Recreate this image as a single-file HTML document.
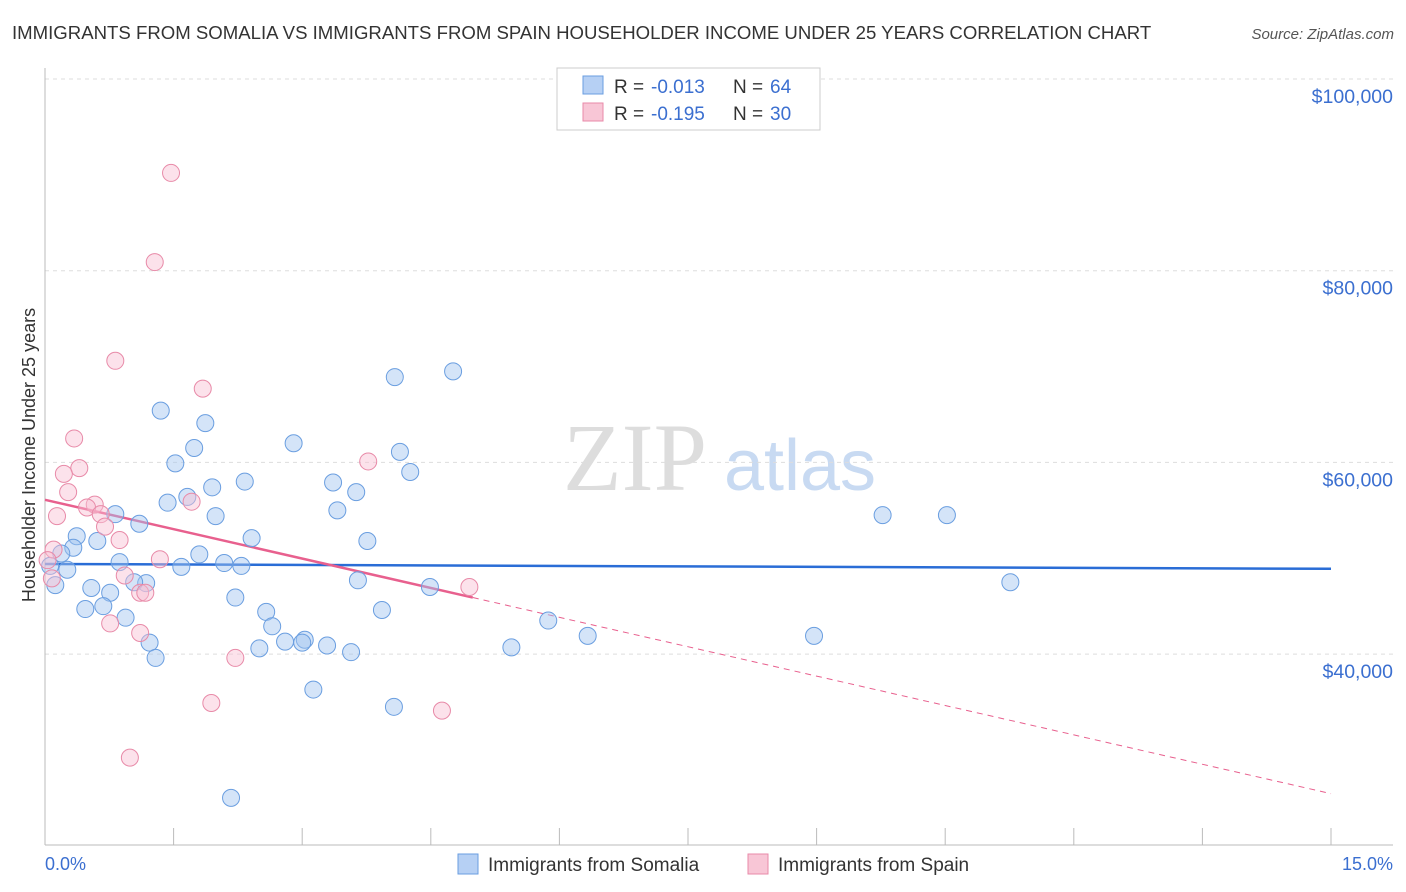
<!DOCTYPE html>
<html><head><meta charset="utf-8"><style>
body{margin:0;background:#fff;font-family:"Liberation Sans",sans-serif}
svg{display:block}
</style></head><body>
<svg width="1406" height="892" xmlns="http://www.w3.org/2000/svg">
<text x="12" y="39" font-size="18.6" fill="#333">IMMIGRANTS FROM SOMALIA VS IMMIGRANTS FROM SPAIN HOUSEHOLDER INCOME UNDER 25 YEARS CORRELATION CHART</text>
<text x="1394" y="39" font-size="15" fill="#555" font-style="italic" text-anchor="end">Source: ZipAtlas.com</text>
<g>
<text x="635" y="490" font-size="96" fill="#ddd" font-family="Liberation Serif,serif" text-anchor="middle">ZIP</text>
<text x="800" y="490" font-size="72" fill="#c8daf2" text-anchor="middle">atlas</text>
</g>
<g id="grid"></g>
<g id="axes"></g>
<g id="trends"></g>
<g id="dots"></g>
<text x="35" y="455" font-size="18" fill="#333" text-anchor="middle" transform="rotate(-90 35 455)">Householder Income Under 25 years</text>
<text x="45" y="870" font-size="18" fill="#3b6fd0">0.0%</text>
<text x="1393" y="870" font-size="18" fill="#3b6fd0" text-anchor="end">15.0%</text>
<g>
<rect x="557" y="68" width="263" height="62" fill="#fff" stroke="#ccc"/>
<rect x="583" y="76" width="20" height="18" fill="#b6d0f4" stroke="#6a9ee0"/>
<rect x="583" y="103" width="20" height="18" fill="#f8c6d6" stroke="#e88aa8"/>
<text x="614" y="93" font-size="19" fill="#333">R =</text>
<text x="651" y="93" font-size="19" fill="#3b6fd0">-0.013</text>
<text x="733" y="93" font-size="19" fill="#333">N =</text>
<text x="770" y="93" font-size="19" fill="#3b6fd0">64</text>
<text x="614" y="120" font-size="19" fill="#333">R =</text>
<text x="651" y="120" font-size="19" fill="#3b6fd0">-0.195</text>
<text x="733" y="120" font-size="19" fill="#333">N =</text>
<text x="770" y="120" font-size="19" fill="#3b6fd0">30</text>
</g>
<g>
<rect x="458" y="854" width="20" height="20" fill="#b6d0f4" stroke="#6a9ee0"/>
<text x="488" y="871" font-size="19" fill="#333">Immigrants from Somalia</text>
<rect x="748" y="854" width="20" height="20" fill="#f8c6d6" stroke="#e88aa8"/>
<text x="778" y="871" font-size="19" fill="#333">Immigrants from Spain</text>
</g>
</svg>
<script>
const yTicks=[40000,60000,80000,100000];
const yTickLabels=["$40,000","$60,000","$80,000","$100,000"];
const xTicks=[0,1.5,3,4.5,6,7.5,9,10.5,12,13.5,15];
const somaliaX=[1.35,1.87,1.74,1.52,2.90,4.08,4.76,4.14,4.26,3.36,3.63,2.33,1.95,1.66,1.43,3.41,1.99,0.82,1.10,0.37,0.61,2.41,3.76,0.33,0.19,1.80,2.09,2.29,0.87,1.59,0.26,0.06,0.12,0.54,0.76,1.18,1.04,3.65,4.49,2.22,0.47,0.68,0.94,2.58,2.65,3.93,5.87,6.33,8.97,5.44,1.22,1.29,2.50,2.80,3.03,3.00,3.29,3.57,3.13,4.07,2.17,9.77,10.52,11.26];
const somaliaY=[65400,64100,61500,59900,62000,68900,69500,61100,59000,57900,56900,58000,57400,56400,55800,55000,54400,54600,53600,52300,51800,52100,51800,51100,50500,50400,49500,49200,49600,49100,48800,49200,47200,46900,46400,47400,47500,47700,47000,45900,44700,45000,43800,44400,42900,44600,43500,41900,41900,40700,41200,39600,40600,41300,41500,41200,40900,40200,36300,34500,25000,54500,54500,47500];
const spainX=[1.47,1.28,0.82,1.84,0.34,0.40,0.22,0.27,3.77,1.71,0.14,0.58,0.49,0.65,0.70,0.87,0.10,1.34,0.08,0.93,1.11,1.17,0.76,1.11,2.22,1.94,4.63,0.99,4.95,0.03];
const spainY=[90200,80900,70600,67700,62500,59400,58800,56900,60100,55900,54400,55600,55300,54600,53300,51900,50900,49900,47900,48200,46400,46400,43200,42200,39600,34900,34100,29200,47000,49800];
const somaliaTrend=[49400,48900];
const spainTrend=[56100,25440];
const spainSolidEnd=4.99;

const NS="http://www.w3.org/2000/svg";
const X=v=>45+v/15*1286;
const Y=v=>79+(100000-v)/20000*191.7;
function mk(tag,attrs,parent){const e=document.createElementNS(NS,tag);for(const k in attrs)e.setAttribute(k,attrs[k]);document.getElementById(parent).appendChild(e);return e;}
yTicks.forEach((t,i)=>{
 const g=mk('line',{x1:45,x2:1393,y1:Y(t),y2:Y(t),stroke:'#ddd','stroke-dasharray':'4,4'},'grid');
 
 
 const l=mk('text',{x:1393,y:Y(t)+24,'font-size':19.5,fill:'#3b6fd0','text-anchor':'end'},'grid');
 l.textContent=yTickLabels[i];
 
 
});
const ya=mk('line',{x1:45,x2:45,y1:68,y2:845,stroke:'#bbb'},'axes');


const xa=mk('line',{x1:45,x2:1393,y1:845,y2:845,stroke:'#bbb'},'axes');


xTicks.forEach(t=>{
 const k=mk('line',{x1:X(t),x2:X(t),y1:828,y2:845,stroke:'#bbb'},'axes');
 
 
});
const bt=mk('line',{x1:X(0),y1:Y(somaliaTrend[0]),x2:X(15),y2:Y(somaliaTrend[1]),stroke:'#2a6dd6','stroke-width':2.5},'trends');


const py=x=>spainTrend[0]+(spainTrend[1]-spainTrend[0])*x/15;
const pt=mk('line',{x1:X(0),y1:Y(py(0)),x2:X(spainSolidEnd),y2:Y(py(spainSolidEnd)),stroke:'#e8608e','stroke-width':2.5},'trends');


const pd=mk('line',{x1:X(spainSolidEnd),y1:Y(py(spainSolidEnd)),x2:X(15),y2:Y(py(15)),stroke:'#e8608e','stroke-width':1,'stroke-dasharray':'6,5'},'trends');


somaliaX.forEach((x,i)=>{
 const c=mk('circle',{cx:X(x),cy:Y(somaliaY[i]),r:8.5,fill:'rgba(160,195,240,0.45)',stroke:'#6a9ee0','stroke-width':1},'dots');
 
 
});
spainX.forEach((x,i)=>{
 const c=mk('circle',{cx:X(x),cy:Y(spainY[i]),r:8.5,fill:'rgba(248,190,210,0.45)',stroke:'#e88aa8','stroke-width':1},'dots');
 
 
});
</script>
</body></html>
